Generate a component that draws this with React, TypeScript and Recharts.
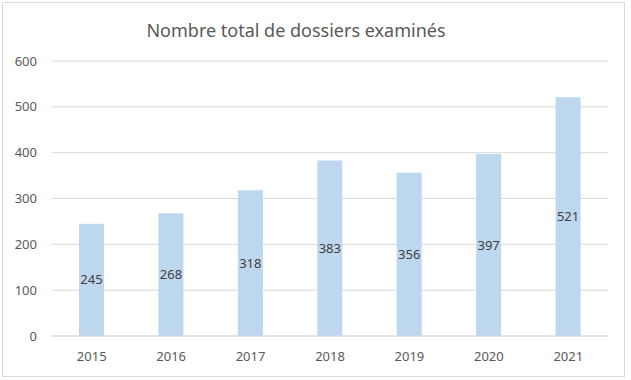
import React from 'react';
import { BarChart, Bar, XAxis, YAxis, CartesianGrid, LabelList } from 'recharts';

// Values
const years = ['2015', '2016', '2017', '2018', '2019', '2020', '2021'];
const dossiers = [245, 268, 318, 383, 356, 397, 521];
const yTicks = [0, 100, 200, 300, 400, 500, 600];

const data = years.map((year, i) => ({ year, value: dossiers[i] }));

const font = '"Noto Sans", sans-serif';

const App = () => {
  return (
    <div style={{ position: 'absolute', left: 0, top: 0, width: 631, height: 380, background: '#fff', fontFamily: font }}>
      {/* chart frame */}
      <div style={{ position: 'absolute', left: 2, top: 2, width: 621, height: 373, border: '1px solid #d9d9d9' }} />
      <div style={{ position: 'absolute', left: 0, top: 18, width: 592, textAlign: 'center', fontSize: 18, color: '#595959' }}>
        Nombre total de dossiers examinés
      </div>
      <BarChart
        width={631}
        height={380}
        data={data}
        margin={{ top: 61, right: 23, bottom: 0, left: 7 }}
        style={{ position: 'absolute', left: 0, top: 0 }}
      >
        <CartesianGrid vertical={false} stroke="#d9d9d9" />
        <XAxis
          dataKey="year"
          height={44}
          tickLine={false}
          axisLine={{ stroke: '#d9d9d9' }}
          tick={{ fill: '#595959', fontSize: 13, fontFamily: font }}
          tickMargin={10}
        />
        <YAxis
          width={45}
          domain={[0, 600]}
          ticks={yTicks}
          axisLine={false}
          tickLine={false}
          tick={{ fill: '#595959', fontSize: 13, fontFamily: font }}
          tickMargin={9}
        />
        <Bar dataKey="value" fill="#bdd7ee" barSize={25} isAnimationActive={false}>
          <LabelList dataKey="value" position="center" fill="#404040" fontSize={13} fontFamily={font} />
        </Bar>
      </BarChart>
    </div>
  );
};

export default App;
